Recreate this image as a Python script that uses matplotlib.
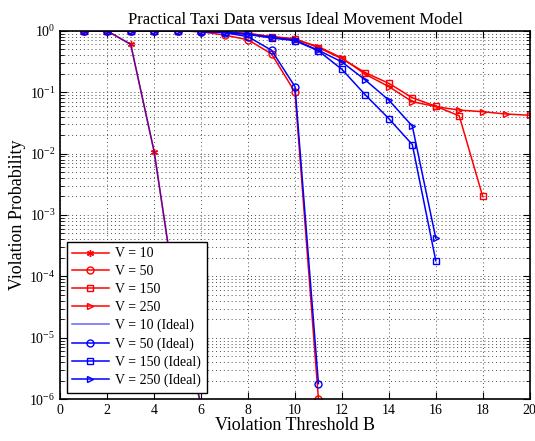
import numpy as np
import matplotlib.pyplot as plt

plt.rcParams['font.family'] = ['Liberation Serif', 'DejaVu Serif']
plt.rcParams['mathtext.fontset'] = 'stix'

# violation probability vs threshold B
b10 = [1, 2, 3, 4, 5, 6]
p10 = [1.0, 0.99, 0.6, 0.0107, 3e-5, 8e-7]

b50 = [1, 2, 3, 4, 5, 6, 7, 8, 9, 10, 11]
p50 = [1.0, 1.0, 1.0, 1.0, 1.0, 0.96, 0.85, 0.71, 0.42, 0.1, 1e-6]
p50_ideal = [1.0, 1.0, 1.0, 1.0, 1.0, 0.97, 0.93, 0.8, 0.48, 0.123, 1.8e-6]

b150 = list(range(1, 19))
p150 = [1.0, 1.0, 1.0, 1.0, 1.0, 0.98, 0.95, 0.9, 0.8, 0.74, 0.53, 0.35,
        0.207, 0.139, 0.081, 0.059, 0.041, 0.002]
b250 = list(range(1, 21))
p250 = [1.0, 1.0, 1.0, 1.0, 1.0, 0.98, 0.95, 0.9, 0.8, 0.72, 0.55, 0.36,
        0.195, 0.123, 0.07, 0.058, 0.051, 0.048, 0.044, 0.042]

b_ideal = list(range(1, 17))
p150_ideal = [1.0, 1.0, 1.0, 1.0, 1.0, 0.98, 0.94, 0.87, 0.76, 0.69, 0.47,
              0.235, 0.09, 0.037, 0.014, 1.8e-4]
p250_ideal = [1.0, 1.0, 1.0, 1.0, 1.0, 0.98, 0.95, 0.88, 0.78, 0.7, 0.48,
              0.31, 0.157, 0.074, 0.028, 4.2e-4]

fig = plt.figure(figsize=(5.35, 4.41), dpi=100)
ax = fig.add_axes([0.1127, 0.0946, 0.8773, 0.8358])

kw = dict(lw=1.1, ms=5, mfc='none', mew=1.0)
ax.semilogy(b10, p10, 'r-', marker=(6, 2, 0), label='V = 10', **kw)
ax.semilogy(b50, p50, 'r-', marker='o', label='V = 50', **kw)
ax.semilogy(b150, p150, 'r-', marker='s', label='V = 150', **kw)
ax.semilogy(b250, p250, 'r-', marker='>', label='V = 250', **kw)
ax.semilogy(b10, p10, 'b-', label='V = 10 (Ideal)', lw=1.1, alpha=0.6)
ax.semilogy(b50, p50_ideal, 'b-', marker='o', label='V = 50 (Ideal)', **kw)
ax.semilogy(b_ideal, p150_ideal, 'b-', marker='s', label='V = 150 (Ideal)', **kw)
ax.semilogy(b_ideal, p250_ideal, 'b-', marker='>', label='V = 250 (Ideal)', **kw)

ax.set_xlim(0, 20)
ax.set_ylim(1e-6, 1)
ax.set_xticks(np.arange(0, 21, 2))
ax.set_yticks([10.0 ** k for k in range(-6, 1)])
ax.grid(True, which='major', ls=(0, (1, 3)), color='0.3', lw=0.7)
ax.grid(True, which='minor', axis='y', ls=(0, (1, 3)), color='0.3', lw=0.7)
ax.tick_params(which='both', direction='in', top=True, right=True, labelsize=10)
ax.tick_params(which='major', length=5)
ax.tick_params(which='minor', length=3)
for s in ax.spines.values():
    s.set_linewidth(1.2)

ax.set_title('Practical Taxi Data versus Ideal Movement Model', fontsize=12, pad=5)
ax.set_xlabel('Violation Threshold B', fontsize=13, labelpad=0)
ax.set_ylabel('Violation Probability', fontsize=13, labelpad=2)

leg = ax.legend(loc='lower left', bbox_to_anchor=(0.014, 0.017), borderaxespad=0,
                fontsize=10, fancybox=False, framealpha=1, edgecolor='black',
                labelspacing=0.35, handlelength=2.6, handletextpad=0.5,
                borderpad=0.4)
leg.get_frame().set_linewidth(1.0)

fig.savefig('out.png', dpi=100)
